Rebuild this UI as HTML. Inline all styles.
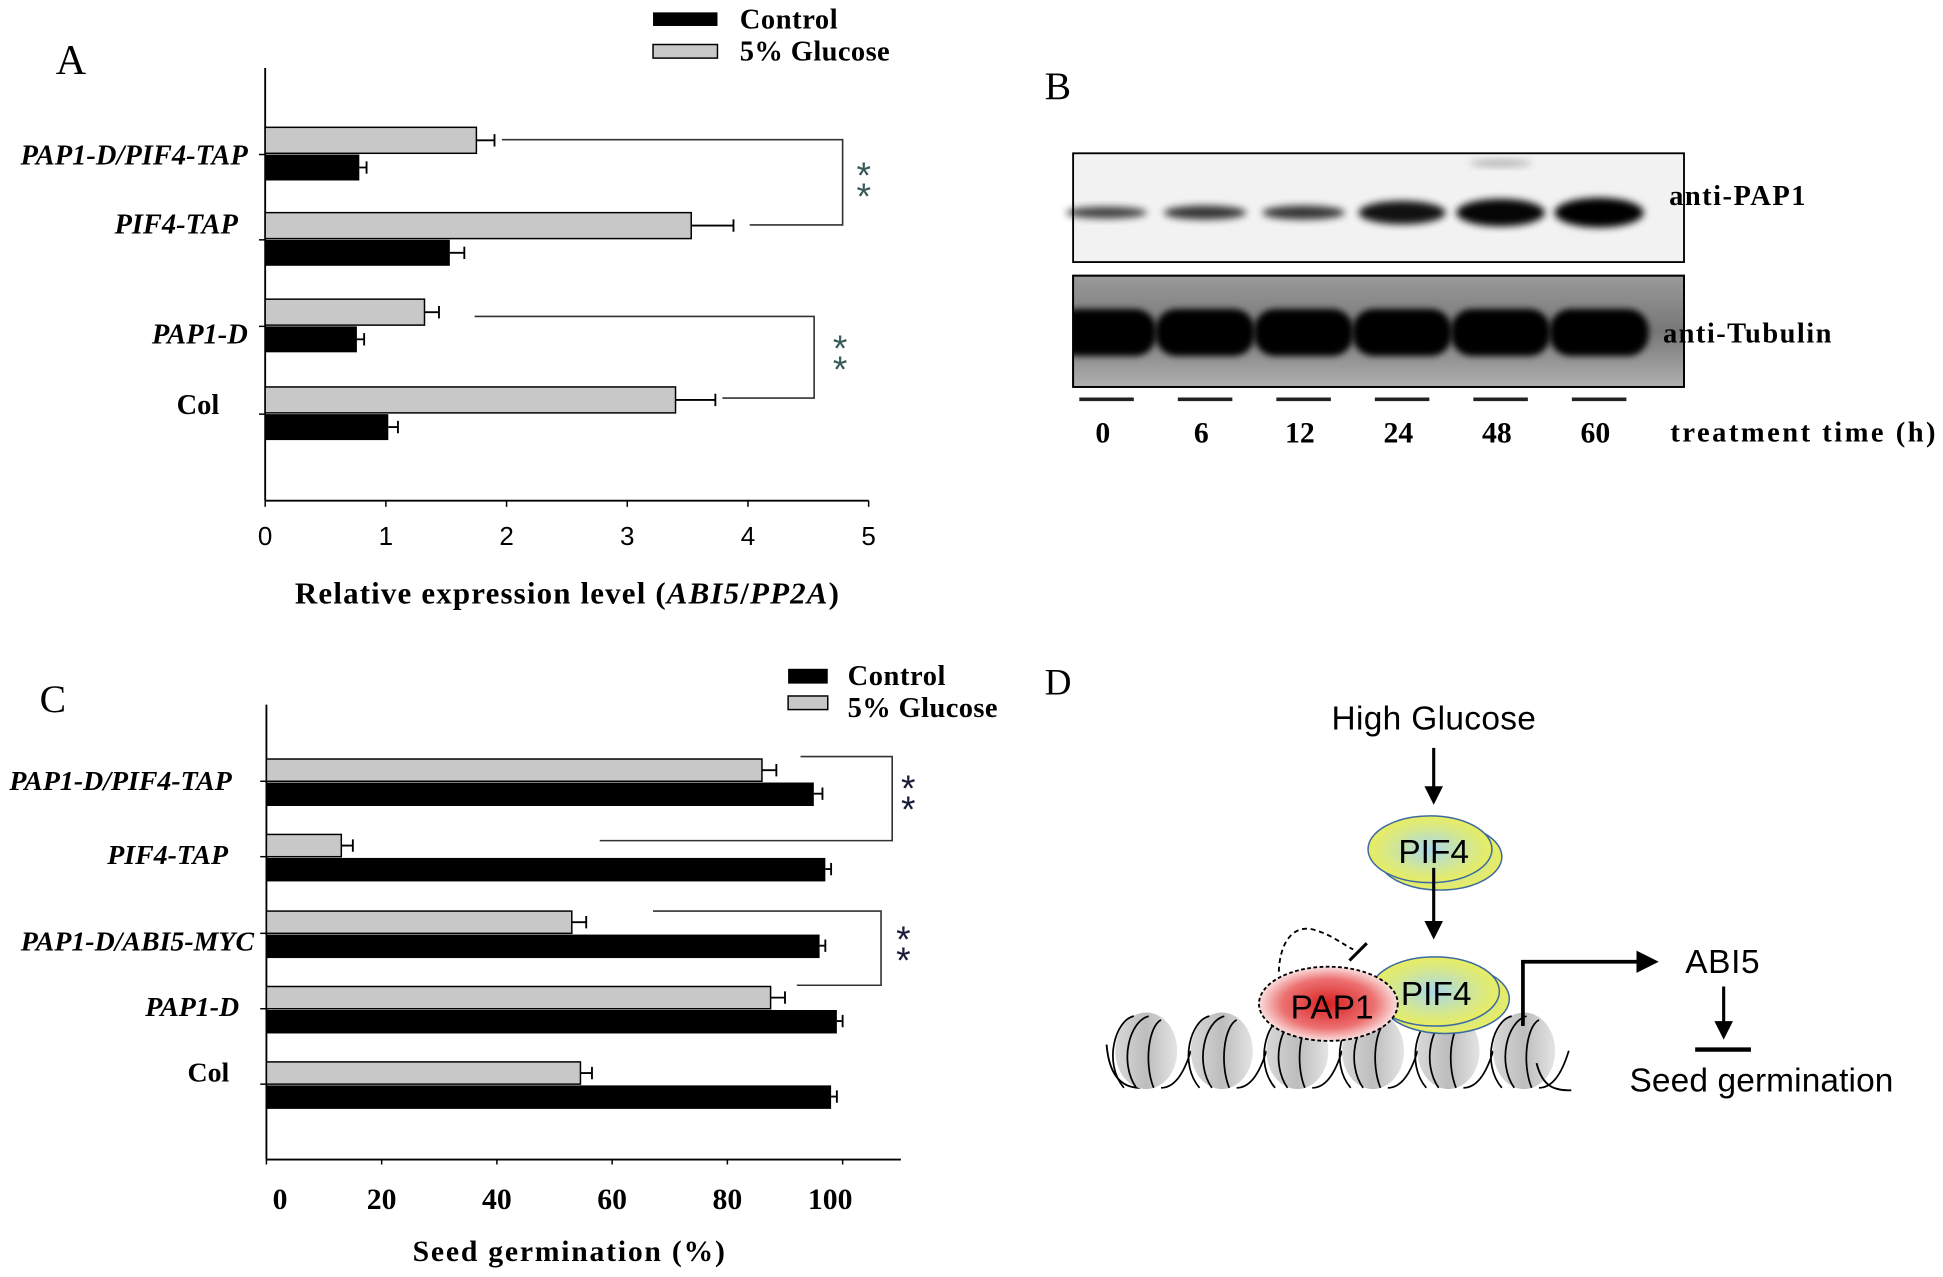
<!DOCTYPE html>
<html><head><meta charset="utf-8"><style>
html,body{margin:0;padding:0;background:#fff;}
svg{display:block;}
.serif{font-family:"Liberation Serif",serif;font-weight:bold;}
.sans{font-family:"Liberation Sans",sans-serif;}
</style></head><body>
<svg id="fig" width="1943" height="1277" viewBox="0 0 1568 1033" preserveAspectRatio="none" xmlns="http://www.w3.org/2000/svg">
<defs>
<filter id="blur" x="-20%" y="-50%" width="140%" height="200%"><feGaussianBlur stdDeviation="3"/></filter>
<filter id="blur2" x="-20%" y="-50%" width="140%" height="200%"><feGaussianBlur stdDeviation="2.5"/></filter>
<clipPath id="clipTub"><rect x="866" y="223" width="493" height="90"/></clipPath>
<linearGradient id="tubbg" x1="0" y1="0" x2="0" y2="1"><stop offset="0" stop-color="#9a9a9a"/><stop offset="0.5" stop-color="#777"/><stop offset="1" stop-color="#b0b0b0"/></linearGradient>
<radialGradient id="pif" cx="50%" cy="50%" r="55%"><stop offset="0" stop-color="#a8d8ec"/><stop offset="0.6" stop-color="#d6e88a"/><stop offset="1" stop-color="#eeee55"/></radialGradient>
<radialGradient id="pap" cx="50%" cy="50%" r="55%"><stop offset="0" stop-color="#d82020"/><stop offset="0.6" stop-color="#ec7070"/><stop offset="1" stop-color="#ffffff"/></radialGradient>
<linearGradient id="nuc" x1="0" x2="1"><stop offset="0" stop-color="#d8d8d8"/><stop offset="0.5" stop-color="#bdbdbd"/><stop offset="1" stop-color="#e4e4e4"/></linearGradient>
<marker id="arr" viewBox="0 0 10 10" refX="8" refY="5" markerWidth="6" markerHeight="6" orient="auto"><path d="M0,0 L10,5 L0,10 z" fill="#000"/></marker>
</defs>

<!-- Panel A static -->
<text x="45" y="60" font-size="34" font-family="Liberation Serif,serif">A</text>
<g>
<rect x="527" y="10" width="52" height="11" fill="#000"/>
<text x="597" y="23" font-size="23" class="serif" textLength="79">Control</text>
<rect x="527" y="36" width="52" height="11" fill="#c8c8c8" stroke="#000" stroke-width="1.2"/>
<text x="597" y="49" font-size="23" class="serif" textLength="121">5% Glucose</text>
</g>
<g id="chartA"></g>
<text x="238" y="488" font-size="25" class="serif" textLength="439">Relative expression level (<tspan font-style="italic">ABI5</tspan>/<tspan font-style="italic">PP2A</tspan>)</text>

<!-- Panel C static -->
<text x="32" y="576" font-size="32" font-family="Liberation Serif,serif">C</text>
<g>
<rect x="636" y="541" width="32" height="12" fill="#000"/>
<text x="684" y="554" font-size="23" class="serif" textLength="79">Control</text>
<rect x="636" y="563" width="32" height="11" fill="#c8c8c8" stroke="#000" stroke-width="1.2"/>
<text x="684" y="580" font-size="23" class="serif" textLength="121">5% Glucose</text>
</g>
<g id="chartC"></g>
<text x="333" y="1020" font-size="24" class="serif" textLength="252">Seed germination  (%)</text>

<!-- Panel B -->
<text x="843" y="80" font-size="32" font-family="Liberation Serif,serif">B</text>
<g id="blot">
<rect x="866" y="124" width="493" height="88" fill="#f2f2f2" stroke="#000" stroke-width="1.5"/>
<rect x="866" y="223" width="493" height="90" fill="url(#tubbg)" stroke="#000" stroke-width="1.5"/>
<g id="tubBands" clip-path="url(#clipTub)"></g>
<rect x="866" y="223" width="493" height="90" fill="none" stroke="#000" stroke-width="1.5"/>
</g>
<text x="1347" y="166" font-size="23" class="serif" textLength="110">anti-PAP1</text>
<text x="1342" y="277" font-size="23" class="serif" textLength="136">anti-Tubulin</text>
<g id="lanes"></g>
<text x="1348" y="357" font-size="23" class="serif" textLength="214">treatment  time  (h)</text>

<!-- Panel D -->
<text x="843" y="562" font-size="30" font-family="Liberation Serif,serif">D</text>
<g>
<text x="1157" y="590" text-anchor="middle" font-size="27" class="sans" textLength="165">High Glucose</text>
<line x1="1157" y1="605" x2="1157" y2="648" stroke="#000" stroke-width="2.5" marker-end="url(#arr)"/>
<ellipse cx="1162" cy="693" rx="50" ry="27" fill="url(#pif)" stroke="#3a6aa0" stroke-width="1.2"/>
<ellipse cx="1154" cy="687" rx="50" ry="27" fill="url(#pif)" stroke="#3a6aa0" stroke-width="1.2"/>
<text x="1157" y="698" text-anchor="middle" font-size="27" class="sans">PIF4</text>
<line x1="1157" y1="702" x2="1157" y2="757" stroke="#000" stroke-width="2.5" marker-end="url(#arr)"/>
<g>
<path d="M893,845 C895,870 905,880 920,880" fill="none" stroke="#000" stroke-width="1.5"/>
<g id="nucs"></g>
<path d="M1240,860 C1245,880 1255,882 1268,882" fill="none" stroke="#000" stroke-width="1.5"/>
</g>
<ellipse cx="1166" cy="808" rx="52" ry="28" fill="url(#pif)" stroke="#3a6aa0" stroke-width="1.2"/>
<ellipse cx="1158" cy="802" rx="52" ry="28" fill="url(#pif)" stroke="#3a6aa0" stroke-width="1.2"/>
<text x="1159" y="813" text-anchor="middle" font-size="27" class="sans">PIF4</text>
<ellipse cx="1072" cy="812" rx="56" ry="30" fill="url(#pap)" stroke="#000" stroke-width="1.5" stroke-dasharray="3,2"/>
<text x="1075" y="824" text-anchor="middle" font-size="27" class="sans">PAP1</text>
<path d="M1032,786 C1033,760 1045,748 1060,752 C1075,756 1085,765 1092,768" fill="none" stroke="#000" stroke-width="1.5" stroke-dasharray="4,3"/>
<line x1="1089" y1="777" x2="1103" y2="763" stroke="#000" stroke-width="2.5"/>
<path d="M1229,830 L1229,778 L1335,778" fill="none" stroke="#000" stroke-width="3" marker-end="url(#arr)"/>
<text x="1360" y="787" font-size="27" class="sans" textLength="60">ABI5</text>
<line x1="1391" y1="798" x2="1391" y2="838" stroke="#000" stroke-width="2.5" marker-end="url(#arr)"/>
<line x1="1368" y1="849" x2="1413" y2="849" stroke="#000" stroke-width="3.5"/>
<text x="1315" y="883" font-size="27" class="sans" textLength="213">Seed germination</text>
</g>
</svg>
<script>
// ---------- Panel A data ----------
const catsA = ["PAP1-D/PIF4-TAP","PIF4-TAP","PAP1-D","Col"];
const glucA = [1.75, 3.53, 1.32, 3.40];
const glucErrA = [0.15, 0.35, 0.12, 0.33];
const ctrlA = [0.78, 1.53, 0.76, 1.02];
const ctrlErrA = [0.06, 0.12, 0.06, 0.08];
const ticksA = [0,1,2,3,4,5];
// ---------- Panel C data ----------
const catsC = ["PAP1-D/PIF4-TAP","PIF4-TAP","PAP1-D/ABI5-MYC","PAP1-D","Col"];
const glucC = [86, 13, 53, 87.5, 54.5];
const glucErrC = [2.5, 2, 2.5, 2.5, 2];
const ctrlC = [95, 97, 96, 99, 98];
const ctrlErrC = [1.5, 1, 1, 1, 1];
const ticksC = [0,20,40,60,80,100];
// ---------- Panel B data ----------
const lanes = ["0","6","12","24","48","60"];
const pap1Intensity = [0.45, 0.55, 0.55, 0.85, 0.95, 1.0];

const NS="http://www.w3.org/2000/svg";
function mk(parent, tag, attrs, text){
  const e=document.createElementNS(NS,tag);
  for(const k in attrs) e.setAttribute(k,attrs[k]);
  if(text!==undefined) e.textContent=text;
  parent.appendChild(e); return e;
}
function stars(g,x,y,fill,name){
  const s=mk(g,'text',{x:x,y:y,'text-anchor':'middle','font-size':30,'font-family':'Liberation Sans,sans-serif',fill:fill});
   
  mk(s,'tspan',{x:x,dy:0},'*'); mk(s,'tspan',{x:x,dy:17},'*');
}

// ===== Panel A =====
(function(){
  const g=document.getElementById('chartA');
  const x0=214, x1=701, yTop=55, yBot=405, vmax=5;
  const X=v=>x0+(v/vmax)*(x1-x0);
  const groupTop=[103,172,242,313];
  const bh=21;
  let ax=mk(g,'line',{x1:x0,y1:yTop,x2:x0,y2:yBot,stroke:'#000','stroke-width':1.5});
   
  ax=mk(g,'line',{x1:x0,y1:yBot,x2:x1,y2:yBot,stroke:'#000','stroke-width':1.5});
   
  ticksA.forEach(t=>{
    const tk=mk(g,'line',{x1:X(t),y1:yBot,x2:X(t),y2:yBot+5,stroke:'#000','stroke-width':1.2});
     
    const tl=mk(g,'text',{x:X(t),y:yBot+36,'text-anchor':'middle','font-size':21,'font-family':'Liberation Sans,sans-serif'},String(t));
     
  });
  const labY=[133,189,278,335];
  const labX=[200,192,200,177];
  catsA.forEach((c,i)=>{
    const yg=groupTop[i], yc=yg+bh+1;
    const tk=mk(g,'line',{x1:x0-5,y1:yc,x2:x0,y2:yc,stroke:'#000','stroke-width':1.2});
     
    const lab=mk(g,'text',{x:labX[i],y:labY[i],'text-anchor':'end','font-size':23,'font-family':'Liberation Serif,serif','font-weight':'bold','font-style':c==='Col'?'normal':'italic'},c);
     
    const gb=mk(g,'rect',{x:x0,y:yg,width:X(glucA[i])-x0,height:bh,fill:'#c8c8c8',stroke:'#000','stroke-width':1.2});
     
    const ge=mk(g,'path',{d:`M${X(glucA[i])},${yg+bh/2}H${X(glucA[i]+glucErrA[i])}M${X(glucA[i]+glucErrA[i])},${yg+bh/2-5}V${yg+bh/2+5}`,stroke:'#000','stroke-width':1.5,fill:'none'});
     
    const cy=yg+bh+1;
    const cb=mk(g,'rect',{x:x0,y:cy,width:X(ctrlA[i])-x0,height:bh,fill:'#000'});
     
    const ce=mk(g,'path',{d:`M${X(ctrlA[i])},${cy+bh/2}H${X(ctrlA[i]+ctrlErrA[i])}M${X(ctrlA[i]+ctrlErrA[i])},${cy+bh/2-5}V${cy+bh/2+5}`,stroke:'#000','stroke-width':1.5,fill:'none'});
     
  });
  let b=mk(g,'path',{d:'M405,113H680V182H605',fill:'none',stroke:'#333','stroke-width':1.3});
   
  b=mk(g,'path',{d:'M383,256H657V322H583',fill:'none',stroke:'#333','stroke-width':1.3});
   
  stars(g,697,152,'#3a5a5a','significance-stars-a');
  stars(g,678,292,'#3a5a5a','significance-stars-a');
})();

// ===== Panel C =====
(function(){
  const g=document.getElementById('chartC');
  const x0=215, x100=680, xEnd=727, yTop=570, yBot=938;
  const X=v=>x0+(v/100)*(x100-x0);
  const groupTop=[614,675,737,798,859];
  const bh=18;
  let ax=mk(g,'line',{x1:x0,y1:yTop,x2:x0,y2:yBot,stroke:'#000','stroke-width':1.5});
   
  ax=mk(g,'line',{x1:x0,y1:yBot,x2:xEnd,y2:yBot,stroke:'#000','stroke-width':1.5});
   
  ticksC.forEach(t=>{
    const tk=mk(g,'line',{x1:X(t),y1:yBot,x2:X(t),y2:yBot+4,stroke:'#000','stroke-width':1.2});
     
    const tl=mk(g,'text',{x:X(t)+(t===0?11:(t===100?-10:0)),y:yBot+40,'text-anchor':'middle','font-size':24,'font-family':'Liberation Serif,serif','font-weight':'bold'},String(t));
     
  });
  const labY=[639,699,769,822,875];
  const labX=[187,184,205,193,185];
  catsC.forEach((c,i)=>{
    const yg=groupTop[i];
    const tk=mk(g,'line',{x1:x0-5,y1:yg+bh,x2:x0,y2:yg+bh,stroke:'#000','stroke-width':1.2});
     
    const lab=mk(g,'text',{x:labX[i],y:labY[i],'text-anchor':'end','font-size':22.5,'font-family':'Liberation Serif,serif','font-weight':'bold','font-style':c==='Col'?'normal':'italic'},c);
     
    const gb=mk(g,'rect',{x:x0,y:yg,width:X(glucC[i])-x0,height:bh,fill:'#c8c8c8',stroke:'#000','stroke-width':1.2});
     
    const ge=mk(g,'path',{d:`M${X(glucC[i])},${yg+bh/2}H${X(glucC[i]+glucErrC[i])}M${X(glucC[i]+glucErrC[i])},${yg+bh/2-5}V${yg+bh/2+5}`,stroke:'#000','stroke-width':1.5,fill:'none'});
     
    const cy=yg+bh+1;
    const cb=mk(g,'rect',{x:x0,y:cy,width:X(ctrlC[i])-x0,height:bh+1,fill:'#000'});
     
    const ce=mk(g,'path',{d:`M${X(ctrlC[i])},${cy+bh/2}H${X(ctrlC[i]+ctrlErrC[i])}M${X(ctrlC[i]+ctrlErrC[i])},${cy+bh/2-5}V${cy+bh/2+5}`,stroke:'#000','stroke-width':1.5,fill:'none'});
     
  });
  let b=mk(g,'path',{d:'M646,612H720V680H484',fill:'none',stroke:'#333','stroke-width':1.3});
   
  b=mk(g,'path',{d:'M527,737H711V797H643',fill:'none',stroke:'#333','stroke-width':1.3});
   
  stars(g,733,648,'#1a1a3a','significance-stars-c');
  stars(g,729,770,'#1a1a3a','significance-stars-c');
})();

// ===== Panel B =====
(function(){
  const g=document.getElementById('blot');
  const tg=document.getElementById('tubBands');
  const lg=document.getElementById('lanes');
  const lx0=893, lstep=79.5;
  const LX=i=>lx0+i*lstep;
  lanes.forEach((l,i)=>{
    const cx=LX(i), k=pap1Intensity[i];
    const band=mk(g,'ellipse',{cx:cx,cy:172,rx:30+6*k,ry:3+9*k*k,fill:'#000',opacity:0.5+0.5*k,filter:'url(#blur)'});
     
    const tb=mk(tg,'rect',{x:cx-40,y:250,width:80,height:38,rx:17,fill:'#000',filter:'url(#blur2)'});
     
    const ul=mk(lg,'line',{x1:cx-22,y1:323,x2:cx+22,y2:323,stroke:'#222','stroke-width':3});
     
    const t=mk(lg,'text',{x:cx-3,y:358,'text-anchor':'middle','font-size':24,'font-family':'Liberation Serif,serif','font-weight':'bold'},l);
     
  });
  const faint=mk(g,'ellipse',{cx:LX(4),cy:132,rx:25,ry:3,fill:'#000',opacity:0.25,filter:'url(#blur)'});
   
})();

// ===== Nucleosomes =====
(function(){
  const g=document.getElementById('nucs');
  for(let i=0;i<6;i++){
    const cx=925+i*61;
    const n=mk(g,'ellipse',{cx:cx,cy:850,rx:25,ry:31,fill:'url(#nuc)'});
     
    const w=mk(g,'path',{d:`M${cx-18},880 C${cx-35},860 ${cx-25},825 ${cx-10},822 M${cx-8},880 C${cx-22},860 ${cx-14},826 ${cx+2},822 M${cx+6},880 C${cx-2},860 ${cx+2},830 ${cx+12},825 M${cx+12},880 C${cx+22},880 ${cx+30},870 ${cx+36},850`,fill:'none',stroke:'#000','stroke-width':1.4});
     
  }
})();
</script>
</body></html>
